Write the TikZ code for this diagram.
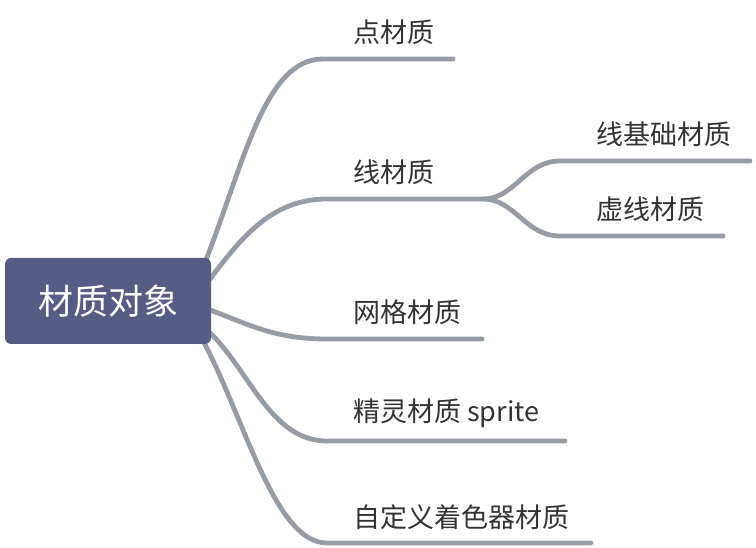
\documentclass[tikz,border=0pt]{standalone}
\usepackage{fontspec}
\setmainfont{Noto Sans CJK SC}
\usepackage{xcolor}
\usetikzlibrary{positioning, backgrounds}

\definecolor{rootblue}{HTML}{565C84}
\definecolor{brgray}{HTML}{959CA5}
\definecolor{txtgray}{HTML}{333333}

\begin{document}
\begin{tikzpicture}[
    x=1pt, y=-1pt,
    root/.style={rectangle, rounded corners=6pt, fill=rootblue, text=white, minimum width=206pt, minimum height=86pt, inner sep=0pt, font=\fontsize{35}{35}\selectfont},
    lbl/.style={anchor=west, inner sep=0pt, text=txtgray, font=\fontsize{27}{27}\selectfont},
    branch/.style={draw=brgray, line width=4.8pt, line cap=round}
]
\useasboundingbox (0,0) rectangle (756,548);

% ==========================================
% NODO CENTRAL
% ==========================================
\node[root] (root) at (108,301) {材质对象};

% ==========================================
% RAMAS
% ==========================================
\node[lbl] (b1) at (353,32) {点材质};
\node[lbl] (b2) at (353,172) {线材质};
\node[lbl] (s1) at (596,134) {线基础材质};
\node[lbl] (s2) at (596,209) {虚线材质};
\node[lbl] (b3) at (353,312) {网格材质};
\node[lbl] (b4) at (353,413) {精灵材质 sprite};
\node[lbl] (b5) at (353,517) {自定义着色器材质};

\coordinate (e1) at (453,59);
\coordinate (sp) at (483,199);
\coordinate (e3) at (482,339);
\coordinate (e4) at (565,441);
\coordinate (e5) at (591,543);
\coordinate (f1) at (750,161);
\coordinate (f2) at (723,236);

\begin{scope}[on background layer]
\draw[branch] ([shift={(-6,-39)}]root.east) .. controls (245,160) and (265,59) .. (323,59) -- (e1);
\draw[branch] ([shift={(-2,-21)}]root.east) .. controls (240,240) and (270,199) .. (327,199) -- (sp);
\draw[branch] ([shift={(-1,9)}]root.east) .. controls (250,325) and (275,339) .. (327,339) -- (e3);
\draw[branch] ([shift={(-4,29)}]root.east) .. controls (250,370) and (270,441) .. (327,441) -- (e4);
\draw[branch] ([shift={(-7,42)}]root.east) .. controls (245,420) and (275,543) .. (327,543) -- (e5);

% Subramas de linea
\draw[branch] (sp) .. controls (515,199) and (525,161) .. (560,161) -- (f1);
\draw[branch] (sp) .. controls (515,199) and (525,236) .. (560,236) -- (f2);
\end{scope}

\end{tikzpicture}
\end{document}
